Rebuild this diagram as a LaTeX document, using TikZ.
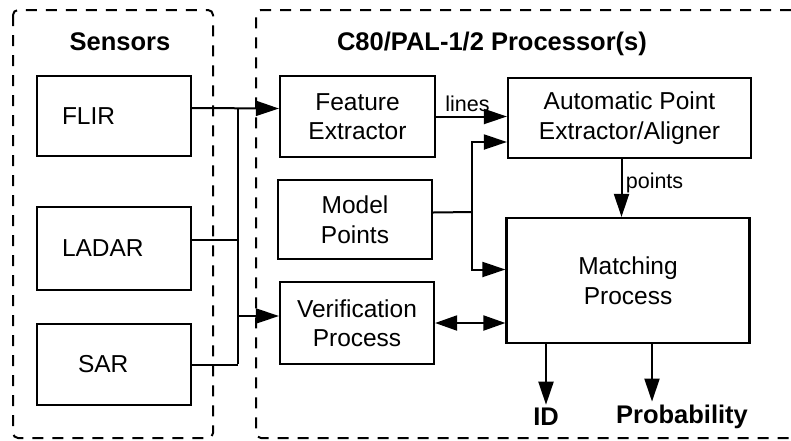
\documentclass[tikz,border=0pt]{standalone}
\usepackage{fontspec}
\setmainfont{Liberation Sans}
\usetikzlibrary{arrows.meta}

\begin{document}
\begin{tikzpicture}[x=1pt, y=-1pt,
        blk/.style={draw, line width=2.2pt, align=center, inner sep=0pt, font=\fontsize{24.5}{29.5}\selectfont},
        sensorblk/.style={blk, align=left, text width=104pt, inner xsep=25pt, minimum height=81pt},
        group/.style={line width=2pt, dash pattern=on 11pt off 9pt, rounded corners=5pt},
        wire/.style={line width=2pt},
        arr/.style={wire, -{Triangle[length=23pt, width=15pt]}},
        arrtwo/.style={wire, {Triangle[length=22pt, width=15pt]}-{Triangle[length=22pt, width=15pt]}},
        ttl/.style={font=\fontsize{25.5}{30}\selectfont\bfseries},
        lbl/.style={font=\fontsize{21.5}{25}\selectfont}]
        \useasboundingbox (0,0) rectangle (791,440);
        \draw[group] (13,10) rectangle (213,438);
        \draw[group] (791,10) -| (256,438) -- (791,438);
        \node[ttl] (senstitle) at (120,42) {Sensors};
        \node[ttl] (proctitle) at (492,44) {C80/PAL-1/2 Processor(s)};
        \node[sensorblk, minimum height=80pt] (flir) at (114,116) {FLIR};
        \node[sensorblk, minimum height=83pt] (ladar) at (114,248.5) {LADAR};
        \node[sensorblk] (sar) at (114,364.5) {\hspace*{16pt}SAR};
        \node[blk, minimum width=155pt, minimum height=81pt] (feat) at (357.5,116.5) {Feature\\Extractor};
        \node[blk, minimum width=154pt, minimum height=79pt] (model) at (355,219.5) {Model\\Points};
        \node[blk, minimum width=154pt, minimum height=82pt] (verif) at (357,323) {Verification\\Process};
        \node[blk, minimum width=243pt, minimum height=80pt] (auto) at (629.5,118) {Automatic Point\\Extractor/Aligner};
        \node[blk, minimum width=243pt, minimum height=125pt] (match) at (628,280.5) {Matching\\Process};
        \node[ttl] (id) at (546,417) {ID};
        \node[ttl] (prob) at (682,417) {Probability};
        \coordinate (bustop) at (238,108);
        \coordinate (busbot) at (238,364);
        \coordinate (mjoin) at (472,212);
        \draw[arr] ([yshift=8pt]flir.east) -- ([yshift=8pt]feat.west);
        \draw[wire] (bustop) -- (busbot);
        \draw[wire] ([yshift=9pt]ladar.east) -- ([yshift=9pt]ladar.east -| bustop);
        \draw[wire] (sar.east) -- (sar.east -| busbot);
        \draw[arr] ([yshift=7pt]verif.west -| busbot) -- ([yshift=7pt]verif.west);
        \draw[arr] (feat.east) -- (feat.east -| auto.west) node[lbl, midway, above, xshift=-4pt] {lines};
        \draw[wire] ([yshift=7pt]model.east) -- (mjoin);
        \draw[arr] (mjoin) |- ([yshift=-24pt]auto.west);
        \draw[arr] (mjoin) |- ([yshift=11pt]match.west);
        \draw[arr] ([xshift=-8pt]auto.south) -- ([xshift=-8pt]auto.south |- match.north) node[lbl, pos=0.42, right] {points};
        \draw[arrtwo] (verif.east) -- (verif.east -| match.west);
        \draw[arr] (id.north |- match.south) -- (id.north);
        \draw[arr] ([xshift=-30pt]prob.north |- match.south) -- ([xshift=-30pt]prob.north);
\end{tikzpicture}
\end{document}
